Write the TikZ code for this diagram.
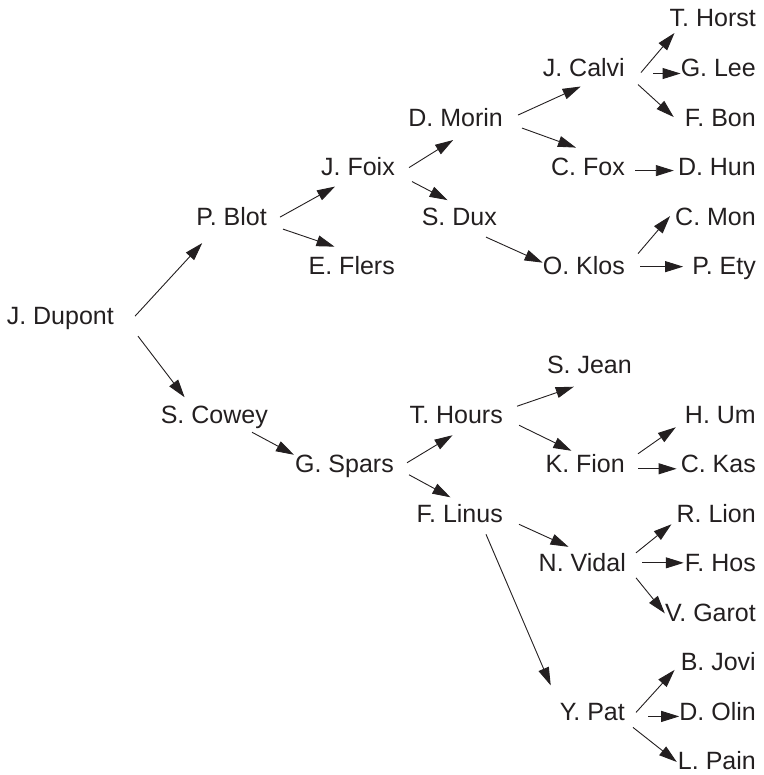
\documentclass[tikz,border=0pt]{standalone}
\usepackage{fontspec}
\setmainfont{Liberation Sans}
\usepackage{tikz}
\usetikzlibrary{arrows.meta}
\definecolor{ink}{HTML}{231F20}

\begin{document}
\begin{tikzpicture}[
  x=1pt, y=-1pt,
  person/.style={anchor=base east, inner sep=0pt, text=ink, font=\fontsize{25}{30}\selectfont},
  link/.style={-{Triangle[length=18pt,width=11pt]}, line width=0.9pt, draw=ink}
]
	\def\rowh{49.53}
	\useasboundingbox (0,0) rectangle (763,775);

	% generation 0 and 1
	\node[person] (dupont) at (114, 27+6*\rowh) {J. Dupont};
	\node[person] (blot) at (267, 27+4*\rowh) {P. Blot};
	\node[person] (cowey) at (268, 27+8*\rowh) {S. Cowey};

	% generation 2
	\node[person] (foix) at (395, 27+3*\rowh) {J. Foix};
	\node[person] (flers) at (395, 27+5*\rowh) {E. Flers};
	\node[person] (spars) at (394, 27+9*\rowh) {G. Spars};

	% generation 3
	\node[person] (morin) at (503, 27+2*\rowh) {D. Morin};
	\node[person] (dux) at (497, 27+4*\rowh) {S. Dux};
	\node[person] (hours) at (503, 27+8*\rowh) {T. Hours};
	\node[person] (linus) at (503, 27+10*\rowh) {F. Linus};

	% generation 4
	\node[person] (calvi) at (625, 27+1*\rowh) {J. Calvi};
	\node[person] (fox) at (625, 27+3*\rowh) {C. Fox};
	\node[person] (klos) at (625, 27+5*\rowh) {O. Klos};
	\node[person] (jean) at (632, 27+7*\rowh) {S. Jean};
	\node[person] (fion) at (625, 27+9*\rowh) {K. Fion};
	\node[person] (vidal) at (626, 27+11*\rowh) {N. Vidal};
	\node[person] (pat) at (625, 27+14*\rowh) {Y. Pat};

	% generation 5
	\node[person] (horst) at (756, 27+0*\rowh) {T. Horst};
	\node[person] (lee) at (756, 27+1*\rowh) {G. Lee};
	\node[person] (bon) at (756, 27+2*\rowh) {F. Bon};
	\node[person] (hun) at (756, 27+3*\rowh) {D. Hun};
	\node[person] (mon) at (756, 27+4*\rowh) {C. Mon};
	\node[person] (ety) at (756, 27+5*\rowh) {P. Ety};
	\node[person] (um) at (756, 27+8*\rowh) {H. Um};
	\node[person] (kas) at (756, 27+9*\rowh) {C. Kas};
	\node[person] (lion) at (756, 27+10*\rowh) {R. Lion};
	\node[person] (hos) at (756, 27+11*\rowh) {F. Hos};
	\node[person] (garot) at (756, 27+12*\rowh) {V. Garot};
	\node[person] (jovi) at (756, 27+13*\rowh) {B. Jovi};
	\node[person] (olin) at (756, 27+14*\rowh) {D. Olin};
	\node[person] (pain) at (756, 27+15*\rowh) {L. Pain};

	% links
	\draw[link] ([shift={(21,-8)}]dupont.base east) -- ([shift={(6,18)}]blot.base west);
	\draw[link] ([shift={(24,12)}]dupont.base east) -- ([shift={(24,-26)}]cowey.base west);
	\draw[link] ([shift={(13,-8)}]blot.base east) -- ([shift={(14,11)}]foix.base west);
	\draw[link] ([shift={(16,4)}]blot.base east) -- ([shift={(26,-28)}]flers.base west);
	\draw[link] ([shift={(-16,9)}]cowey.base east) -- ([shift={(-1,-18)}]spars.base west);
	\draw[link] ([shift={(14,-8)}]foix.base east) -- ([shift={(45,14)}]morin.base west);
	\draw[link] ([shift={(17,6)}]foix.base east) -- ([shift={(26,-25)}]dux.base west);
	\draw[link] ([shift={(13,-10)}]spars.base east) -- ([shift={(43,12)}]hours.base west);
	\draw[link] ([shift={(15,2)}]spars.base east) -- ([shift={(34,-25)}]linus.base west);
	\draw[link] ([shift={(15,-11)}]morin.base east) -- ([shift={(38,10)}]calvi.base west);
	\draw[link] ([shift={(19,2)}]morin.base east) -- ([shift={(25,-28)}]fox.base west);
	\draw[link] ([shift={(-11,12)}]dux.base east) -- ([shift={(0,-12)}]klos.base west);
	\draw[link] ([shift={(14,-17)}]hours.base east) -- ([shift={(27,13)}]jean.base west);
	\draw[link] ([shift={(16,2)}]hours.base east) -- ([shift={(26,-22)}]fion.base west);
	\draw[link] ([shift={(16,2)}]linus.base east) -- ([shift={(30,-25)}]vidal.base west);
	\draw[link] ([shift={(-17,12)}]linus.base east) -- ([shift={(-9,-35)}]pat.base west);
	\draw[link] ([shift={(16,-4)}]calvi.base east) -- ([shift={(5,6)}]horst.base west);
	\draw[link] ([shift={(28,-3)}]calvi.base east) -- ([shift={(0,-3)}]lee.base west);
	\draw[link] ([shift={(13,8)}]calvi.base east) -- ([shift={(-11,-9)}]bon.base west);
	\draw[link] ([shift={(10,-5)}]fox.base east) -- ([shift={(-4,-5)}]hun.base west);
	\draw[link] ([shift={(13,-21)}]klos.base east) -- ([shift={(-5,-9)}]mon.base west);
	\draw[link] ([shift={(15,-8)}]klos.base east) -- ([shift={(-9,-8)}]ety.base west);
	\draw[link] ([shift={(13,-19)}]fion.base east) -- ([shift={(-9,4)}]um.base west);
	\draw[link] ([shift={(13,-4)}]fion.base east) -- ([shift={(-4,-4)}]kas.base west);
	\draw[link] ([shift={(10,-19)}]vidal.base east) -- ([shift={(-5,2)}]lion.base west);
	\draw[link] ([shift={(16,-9)}]vidal.base east) -- ([shift={(-1,-9)}]hos.base west);
	\draw[link] ([shift={(10,6)}]vidal.base east) -- ([shift={(0,-8)}]garot.base west);
	\draw[link] ([shift={(11,-8)}]pat.base east) -- ([shift={(-6,-1)}]jovi.base west);
	\draw[link] ([shift={(23,-4)}]pat.base east) -- ([shift={(0,-4)}]olin.base west);
	\draw[link] ([shift={(8,7)}]pat.base east) -- ([shift={(-1,-8)}]pain.base west);
\end{tikzpicture}
\end{document}
